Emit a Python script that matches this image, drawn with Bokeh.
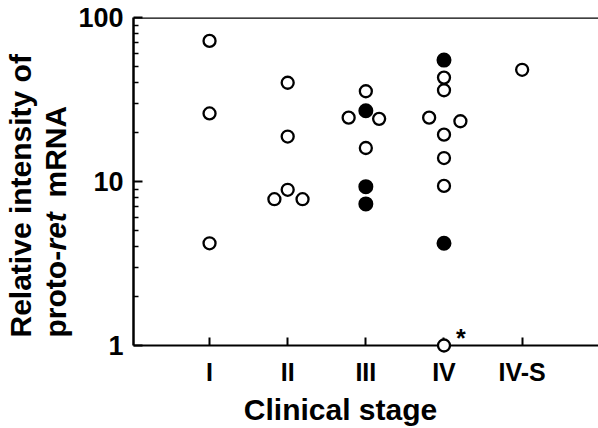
import math
from bokeh.plotting import figure
from bokeh.models import Range1d, FixedTicker, Span, BasicTickFormatter
from bokeh.core.properties import value
from bokeh.embed import file_html
from bokeh.resources import INLINE

# ---- data ----
stage_labels = ["I", "II", "III", "IV", "IV-S"]
stage_pos = [1, 2, 3, 4, 5]

open_stage = [1, 1, 1,
              2, 2, 2, 2, 2,
              3, 3, 3, 3,
              4, 4, 4, 4, 4, 4, 4, 4,
              5]
open_value = [72, 26, 4.2,
              40, 18.8, 8.9, 7.8, 7.8,
              35.5, 24.5, 24.1, 16.0,
              43, 36, 24.5, 23.3, 19.3, 13.9, 9.4, 1.0,
              48]
open_shift = [0, 0, 0,
              0, 0, 0, -0.17, 0.19,
              0, -0.22, 0.17, 0,
              0, 0, -0.19, 0.21, 0, 0, 0, 0,
              0]

filled_stage = [3, 3, 3, 4, 4]
filled_value = [27, 9.3, 7.3, 55, 4.2]
filled_shift = [0, 0, 0, 0, 0]

note_stage = [4]
note_value = [1.0]
note_text = ["*"]

y_major = [1, 10, 100]
y_minor = [2, 3, 4, 5, 6, 7, 8, 9, 20, 30, 40, 50, 60, 70, 80, 90]

FONT = "Liberation Sans"

p = figure(width=598, height=428, y_axis_type="log",
           x_range=Range1d(0.027, 5.977), y_range=Range1d(1, 100),
           output_backend="svg", toolbar_location=None,
           min_border_left=133, min_border_right=0,
           min_border_top=17, min_border_bottom=83)
p.outline_line_color = None
p.grid.visible = False
p.background_fill_color = "white"
p.border_fill_color = "white"

# y axis
ya = p.yaxis[0]
ya.ticker = FixedTicker(ticks=y_major, minor_ticks=y_minor)
ya.formatter = BasicTickFormatter(use_scientific=False)
ya.axis_line_width = 2.5
ya.major_tick_in = 9
ya.major_tick_out = 0
ya.minor_tick_in = 5
ya.minor_tick_out = 0
ya.major_tick_line_width = 2
ya.minor_tick_line_width = 1.5
ya.major_label_text_font = FONT
ya.major_label_text_font_style = "bold"
ya.major_label_text_font_size = "27px"
ya.major_label_text_color = "black"
ya.major_label_standoff = 10

# x axis
xa = p.xaxis[0]
xa.ticker = FixedTicker(ticks=stage_pos, minor_ticks=[])
xa.major_label_overrides = {pos: lab for pos, lab in zip(stage_pos, stage_labels)}
xa.axis_line_width = 2
xa.major_tick_in = 8
xa.major_tick_out = 0
xa.major_tick_line_width = 2
xa.major_label_text_font = FONT
xa.major_label_text_font_style = "bold"
xa.major_label_text_font_size = "25px"
xa.major_label_text_color = "black"
xa.major_label_standoff = 12

# top frame line
p.add_layout(Span(location=p.y_range.end, dimension="width",
                  line_color="black", line_width=2.5))

# points
p.scatter(x=[s + d for s, d in zip(open_stage, open_shift)], y=open_value,
          size=12, fill_color="white", line_color="black", line_width=2.3,
          level="overlay")
p.scatter(x=[s + d for s, d in zip(filled_stage, filled_shift)], y=filled_value,
          size=13, fill_color="black", line_color="black", line_width=2,
          level="overlay")
p.text(x=note_stage, y=note_value, text=note_text, x_offset=12, y_offset=-8,
       text_font=value(FONT), text_font_style="bold", text_font_size="25px",
       text_baseline="alphabetic", text_align="left", text_color="black",
       level="overlay")

# axis titles (anchored at the frame's bottom-left corner, offset in pixels)
x0 = [p.x_range.start]
y0 = [p.y_range.start]

def title_text(txt, dx, dy, angle=0.0, style="bold", align="left"):
    p.text(x=x0, y=y0, text=[txt], x_offset=dx, y_offset=dy,
           angle=angle, angle_units="deg",
           text_font=value(FONT), text_font_style=style, text_font_size="30px",
           text_baseline="alphabetic", text_align=align, text_color="black",
           level="overlay")

title_text("Relative intensity of", -113, -8, angle=90)
title_text("proto-", -78, -8, angle=90)
title_text("ret", -78, -95, angle=90, style="bold italic")
title_text("mRNA", -78, -148, angle=90)
title_text("Clinical stage", 207, 64, align="center")

open("out.html", "w").write(file_html(p, INLINE))
